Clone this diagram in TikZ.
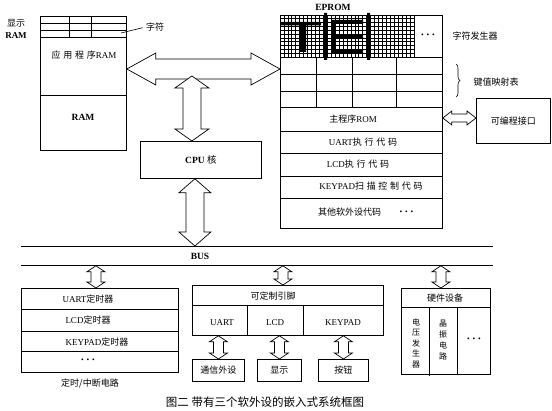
\documentclass[tikz,border=0pt]{standalone}
\usepackage{fontspec}
\setmainfont{Liberation Serif}
\newfontfamily\cjk{Noto Sans CJK SC}
\newfontfamily\cjks[LetterSpace=30]{Noto Sans CJK SC}
\usetikzlibrary{calc,decorations.pathreplacing}

% hollow double arrows: tip, tip, head half width, shaft half width, head length
\newcommand{\vfat}[5]{%
  \draw[fat] let \p1=#1, \p2=#2 in
    (\x1,\y1) -- (\x1+#3pt,\y1-#5pt) -- (\x1+#4pt,\y1-#5pt)
    -- (\x1+#4pt,\y2+#5pt) -- (\x1+#3pt,\y2+#5pt) -- (\x1,\y2)
    -- (\x1-#3pt,\y2+#5pt) -- (\x1-#4pt,\y2+#5pt)
    -- (\x1-#4pt,\y1-#5pt) -- (\x1-#3pt,\y1-#5pt) -- cycle;}
\newcommand{\hfat}[5]{%
  \draw[fat] let \p1=#1, \p2=#2 in
    (\x1,\y1) -- (\x1+#5pt,\y1+#3pt) -- (\x1+#5pt,\y1+#4pt)
    -- (\x2-#5pt,\y1+#4pt) -- (\x2-#5pt,\y1+#3pt) -- (\x2,\y1)
    -- (\x2-#5pt,\y1-#3pt) -- (\x2-#5pt,\y1-#4pt)
    -- (\x1+#5pt,\y1-#4pt) -- (\x1+#5pt,\y1-#3pt) -- cycle;}
\newcommand{\tdots}{{\fontsize{11}{11}\selectfont\bfseries ·\,·\,·}}

\begin{document}
\begin{tikzpicture}[x=1pt, y=-1pt, line width=0.8pt,
    txt/.style={font=\fontsize{9}{10.5}\selectfont, inner sep=0pt},
    btxt/.style={font=\fontsize{9.5}{11}\selectfont\bfseries, inner sep=0pt},
    blk/.style={draw, inner sep=0pt, anchor=north west, font=\fontsize{9}{10.5}\selectfont},
    sz/.style 2 args={minimum width=#1pt, minimum height=#2pt},
    gridline/.style={line width=0.7pt},
    fat/.style={draw, fill=white, line width=0.7pt}]
    \useasboundingbox (0,0) rectangle (552,411);

    % Display RAM
    \node[blk, sz={86}{134}] (ram) at (40,16) {};
    \draw (40,23) -- (126,23) (40,30) -- (126,30) (40,37) -- (126,37) (40,95) -- (126,95);
    \draw (69,16) -- (69,37) (91,16) -- (91,37);
    \node[txt, align=center] (ramlbl) at (16,29) {{\cjk 显示}\\[1pt]\bfseries RAM};
    \node[txt] (chr) at (155,27) {\cjk 字符};
    \draw[line width=0.6pt, shorten <=3pt] (chr.west) -- (121,33);
    \node[txt] (app) at (84,55) {{\cjks 应用程序}RAM};
    \node[btxt] (ramtxt) at (83,117) {RAM};

    % EPROM
    \node[blk, sz={162}{213}] (eprom) at (280,15) {};
    \node[btxt] (eplbl) at (333,7) {EPROM};
    \foreach \i in {0,...,34}
        \draw[gridline] ({280+\i*134/34},15) -- ({280+\i*134/34},57);
    \foreach \j in {0,...,11}
        \draw[gridline] (280,{15+\j*42/11}) -- (414,{15+\j*42/11});
    \draw (414,15) -- (414,57) (280,57) -- (442,57);
    % big letters on the grid
    \fill (281,22) rectangle (321,25.5) (300,22) rectangle (306,52);
    \fill (331,20) rectangle (335,53) (331,20) rectangle (363,24)
          (331,35) rectangle (363,38.5) (331,49.5) rectangle (363,53);
    \fill (324,13) rectangle (327,60) (367,13) rectangle (370,60);
    \node[txt] (gdots) at (428,36) {\tdots};
    % key map table and code rows
    \foreach \y in {74,91,107,131,153,176,198}
        \draw (280,\y) -- (442,\y);
    \foreach \x in {316,352,396}
        \draw (\x,57) -- (\x,107);
    \node[txt] (rom) at (353,119) {{\cjk 主程序}ROM};
    \node[txt] (uartc) at (363,142) {UART{\cjks 执行代码}};
    \node[txt] (lcdc) at (358,164) {LCD{\cjks 执行代码}};
    \node[txt] (keyc) at (371,186) {KEYPAD{\cjks 扫描控制代码}};
    \node[txt] (other) at (366,212) {{\cjk 其他软外设代码}\qquad\tdots};
    \node[txt] (chrgen) at (475,36) {\cjk 字符发生器};
    \draw[line width=0.6pt, decorate, decoration={brace, amplitude=4pt}] (456,64) -- (456,97);
    \node[txt] (map) at (496,82) {\cjk 键值映射表};

    % programmable interface
    \node[blk, sz={74}{45}] (prog) at (476,98) {\cjk 可编程接口};

    % CPU core
    \node[blk, sz={121}{37}, font=\fontsize{9.5}{11}\selectfont\bfseries] (cpu) at (140,141) {CPU {\cjk\mdseries 核}};

    % BUS
    \node[sz={471}{19}, inner sep=0pt, anchor=north west] (bus) at (21,246) {};
    \draw (bus.north west) -- (bus.north east) (bus.south west) -- (bus.south east);
    \node[btxt] (buslbl) at (200,256) {BUS};

    % timer / interrupt circuit
    \node[blk, sz={157}{84}] (tmr) at (21,288) {};
    \draw (21,309) -- (178,309) (21,331) -- (178,331) (21,351) -- (178,351);
    \node[txt] (t1) at (88,299) {UART{\cjk 定时器}};
    \node[txt] (t2) at (88,320) {LCD{\cjk 定时器}};
    \node[txt] (t3) at (97,342) {KEYPAD{\cjk 定时器}};
    \node[txt] (t4) at (88,361) {\tdots};
    \node[txt] (tmrlbl) at (90,383) {\cjk 定时/中断电路};

    % customisable pins
    \node[blk, sz={191}{50}] (pins) at (192,285) {};
    \draw (192,305) -- (383,305) (247,305) -- (247,335) (303,305) -- (303,335);
    \node[txt] (pinlbl) at (273,296) {\cjk 可定制引脚};
    \node[txt] (puart) at (222,323) {UART};
    \node[txt] (plcd) at (275,323) {LCD};
    \node[txt] (pkey) at (343,323) {KEYPAD};
    \node[blk, sz={52}{22}] (comm) at (192,359) {\cjk 通信外设};
    \node[blk, sz={44}{22}] (disp) at (257,359) {\cjk 显示};
    \node[blk, sz={50}{22}] (btn) at (318,359) {\cjk 按钮};

    % hardware devices
    \node[blk, sz={89}{86}] (dev) at (401,288) {};
    \draw (401,307) -- (490,307) (429,307) -- (429,376) (457,307) -- (457,374);
    \node[txt] (devlbl) at (445,298) {\cjk 硬件设备};
    \node[txt, align=center, font=\cjk\fontsize{8}{10.5}\selectfont] (volt) at (416,343) {电\\压\\发\\生\\器};
    \node[txt, align=center, font=\cjk\fontsize{8}{11}\selectfont] (osc) at (443,340) {晶\\振\\电\\路};
    \node[txt] (ddots) at (474,340) {\tdots};

    % double arrows
    \coordinate (hl) at ([yshift=-53pt]ram.north east);
    \hfat{(hl)}{(eprom.west |- hl)}{16}{10}{29}
    \coordinate (cpuup) at ([xshift=-9pt]cpu.north);
    \coordinate (hj) at ([yshift=-7pt]hl -| cpuup);
    \vfat{(hj)}{(cpuup)}{17}{9}{12}
    \coordinate (cpudn) at ([xshift=-6pt]cpu.south);
    \vfat{(cpudn)}{(cpudn |- bus.north)}{16}{9}{14}
    \coordinate (pa) at ([yshift=-103pt]eprom.north east);
    \hfat{(pa)}{(prog.west |- pa)}{7}{4}{9}
    \coordinate (tu) at ([xshift=-4pt]tmr.north);
    \vfat{(tu |- bus.south)}{(tu)}{9}{5}{6}
    \coordinate (pu) at ([xshift=-5pt]pins.north);
    \vfat{(pu |- bus.south)}{(pu)}{9}{5}{6}
    \coordinate (du) at ([xshift=-5pt]dev.north);
    \vfat{(du |- bus.south)}{(du)}{9}{5}{6}
    \foreach \b in {comm,disp,btn} {
        \vfat{(pins.south -| \b.north)}{(\b.north)}{9}{5}{6}
    }

    % caption
    \node[font=\cjk\fontsize{11.5}{13}\selectfont, inner sep=0pt] (cap) at (265,402) {图二\ 带有三个软外设的嵌入式系统框图};
\end{tikzpicture}
\end{document}
